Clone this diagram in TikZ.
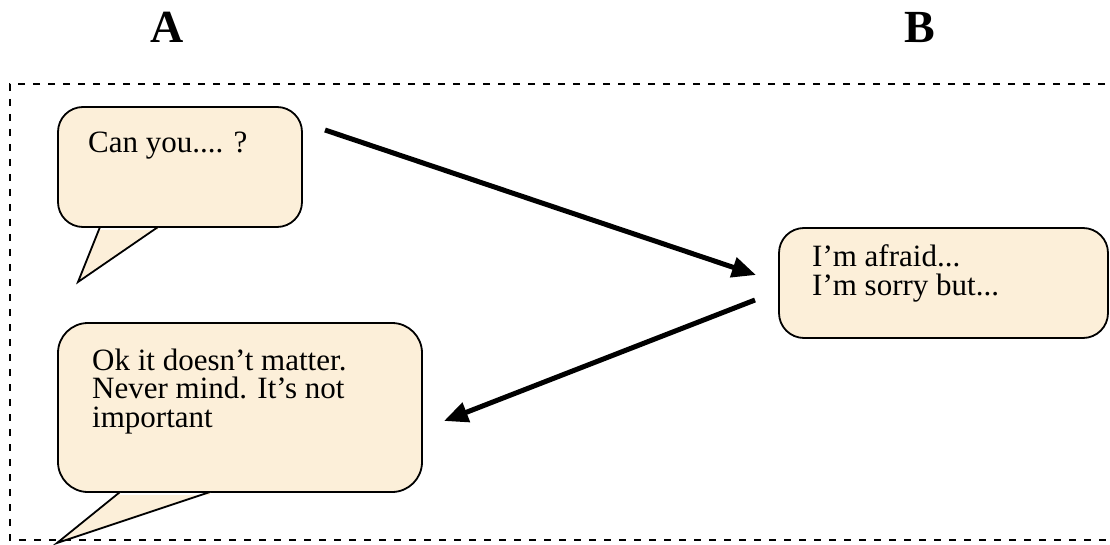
\documentclass[tikz,border=0pt]{standalone}
\usepackage{fontspec}
\setmainfont{Liberation Serif}
\usetikzlibrary{arrows.meta}
\definecolor{parch}{HTML}{FCEFD9}
\tikzset{
  bubble/.style={draw=black, line width=1.8pt, fill=parch, rounded corners=#1, inner sep=0pt},
  tailfill/.style={fill=parch, draw=none},
  tailedge/.style={draw=black, line width=1.8pt, line join=miter},
  speech/.style={anchor=base west, inner sep=0pt, font=\fontsize{31}{28.5}\selectfont},
  letter/.style={anchor=base, inner sep=0pt, font=\fontsize{46}{46}\selectfont\bfseries},
  frame/.style={draw=black, line width=1.3pt, dash pattern=on 7pt off 8pt},
  bigarrow/.style={draw=black, line width=5pt, -{Triangle[length=24pt,width=20pt]}}
}
\begin{document}
\begin{tikzpicture}[x=1pt,y=-1pt]
\useasboundingbox (0,0) rectangle (1110,545);
% frame
\coordinate (fTR) at (1120,84);
\coordinate (fTL) at (10,84);
\coordinate (fBL) at (10,540);
\coordinate (fBR) at (1120,540);
\draw[frame] (fTR) -- (fTL) -- (fBL) -- (fBR);
% headings
\node[letter] (lA) at (167,43) {A};
\node[letter] (lB) at (920,43) {B};
% bubble 1
\node[bubble=25pt, minimum width=244pt, minimum height=120pt] (b1) at (180,167) {};
\coordinate (t1a) at (100,227);
\coordinate (t1b) at (78,282);
\coordinate (t1c) at (158,227);
\fill[tailfill] (t1a) -- (t1b) -- (t1c) -- ([yshift=-3pt]t1c) -- ([yshift=-3pt]t1a) -- cycle;
\draw[tailedge] (t1a) -- (t1b) -- (t1c);
\node[speech] (s1) at (88,153) {Can you.... ?};
% bubble 2
\node[bubble=25pt, minimum width=329pt, minimum height=110pt] (b2) at (943.5,283) {};
\node[speech] (s2a) at (812,266.5) {I’m afraid...};
\node[speech] (s2b) at (812,295.5) {I’m sorry but...};
% bubble 3
\node[bubble=30pt, minimum width=364pt, minimum height=169pt] (b3) at (240,407.5) {};
\coordinate (t3a) at (120,492);
\coordinate (t3b) at (57,543);
\coordinate (t3c) at (210,492);
\fill[tailfill] (t3a) -- (t3b) -- (t3c) -- ([yshift=-3pt]t3c) -- ([yshift=-3pt]t3a) -- cycle;
\draw[tailedge] (t3a) -- (t3b) -- (t3c);
\node[speech] (s3a) at (92,370) {Ok it doesn’t matter.};
\node[speech] (s3b) at (92,398.5) {Never mind. It’s not};
\node[speech] (s3c) at (92,427) {important};
% arrows
\coordinate (a1s) at (325,130);
\coordinate (a1e) at (756,275);
\coordinate (a2s) at (755,300);
\coordinate (a2e) at (444,421);
\draw[bigarrow] (a1s) -- (a1e);
\draw[bigarrow] (a2s) -- (a2e);
\end{tikzpicture}
\end{document}
